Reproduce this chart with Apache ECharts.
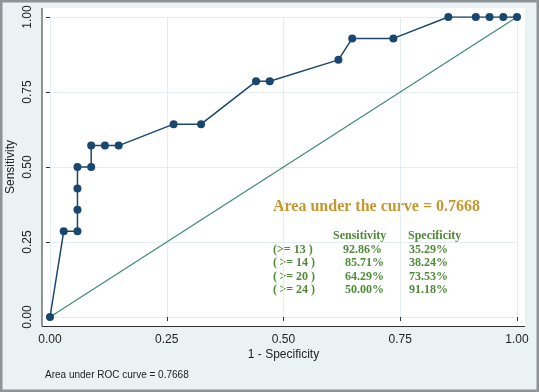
<!DOCTYPE html>
<html><head><meta charset="utf-8">
<script src="https://cdn.jsdelivr.net/npm/echarts@6/dist/echarts.min.js"></script>
<style>html,body{margin:0;padding:0;background:#eaf2f3}#c{width:539px;height:392px}</style>
</head><body><div id="c"></div>
<script>
// ROC points (1 - specificity, sensitivity)
const fpr = [0, 0.0294, 0.0588, 0.0588, 0.0588, 0.0588, 0.0882, 0.0882, 0.1176, 0.1471, 0.2647, 0.3235, 0.4412, 0.4706, 0.6176, 0.6471, 0.7353, 0.8529, 0.9118, 0.9412, 0.9706, 1];
const tpr = [0, 0.2857, 0.2857, 0.3571, 0.4286, 0.5, 0.5, 0.5714, 0.5714, 0.5714, 0.6429, 0.6429, 0.7857, 0.7857, 0.8571, 0.9286, 0.9286, 1, 1, 1, 1, 1];
const refX = [0, 1];
const refY = [0, 1];
const tickLabels = ['0.00', '0.25', '0.50', '0.75', '1.00'];
const cutoffs = ['(>= 13 )', '(\u2009>= 14 )', '(\u2009>= 20 )', '(\u2009>= 24 )'];
const sensValues = ['92.86%', '85.71%', '64.29%', '50.00%'];
const specValues = ['35.29%', '38.24%', '73.53%', '91.18%'];
const aucTitle = 'Area under the curve = 0.7668';
const footer = 'Area under ROC curve = 0.7668';

const chart = echarts.init(document.getElementById('c'), null, {renderer: 'canvas'});
const sans = "'Liberation Sans', Arial, sans-serif";
const serif = "'Liberation Serif', 'Times New Roman', serif";
const green = '#4f8a38';
const tbl = [];
tbl.push({type: 'text', left: 333, top: 230, style: {text: 'Sensitivity', font: 'bold 12px ' + serif, fill: green}});
tbl.push({type: 'text', left: 408, top: 230, style: {text: 'Specificity', font: 'bold 12px ' + serif, fill: green}});
const rowTops = [244, 257, 271, 284];
const sensLeft = [343, 345, 345, 345];
cutoffs.forEach((c, i) => {
  tbl.push({type: 'text', left: 273, top: rowTops[i], style: {text: c, font: 'bold 12px ' + serif, fill: green}});
  tbl.push({type: 'text', left: sensLeft[i], top: rowTops[i], style: {text: sensValues[i], font: 'bold 12px ' + serif, fill: green}});
  tbl.push({type: 'text', left: 409, top: rowTops[i], style: {text: specValues[i], font: 'bold 12px ' + serif, fill: green}});
});

chart.setOption({
  backgroundColor: '#eaf2f3',
  animation: false,
  grid: {left: 50, right: 22, top: 17, bottom: 75, containLabel: false, outerBoundsMode: 'none'},
  xAxis: {
    type: 'value', min: 0, max: 1, interval: 0.25, offset: 9,
    name: '1 - Specificity', nameLocation: 'middle', nameGap: 23, nameMoveOverlap: false,
    nameTextStyle: {fontFamily: sans, fontSize: 12, color: '#222'},
    axisLine: {show: false},
    axisTick: {show: true, length: 4, lineStyle: {color: '#333'}},
    axisLabel: {margin: 8, fontFamily: sans, fontSize: 12, color: '#222',
      formatter: v => tickLabels[Math.round(v / 0.25)]},
    splitLine: {show: true, lineStyle: {color: '#e3edf2', width: 1}}
  },
  yAxis: {
    type: 'value', min: 0, max: 1, interval: 0.25, offset: 8,
    name: 'Sensitivity', nameLocation: 'middle', nameGap: 25, nameRotate: 90, nameMoveOverlap: false,
    nameTextStyle: {fontFamily: sans, fontSize: 12, color: '#222'},
    axisLine: {show: false},
    axisTick: {show: true, length: 4, lineStyle: {color: '#333'}},
    axisLabel: {margin: 8, rotate: 90, fontFamily: sans, fontSize: 12, color: '#222',
      formatter: v => tickLabels[Math.round(v / 0.25)]},
    splitLine: {show: true, lineStyle: {color: '#e3edf2', width: 1}}
  },
  graphic: [
    {type: 'rect', z: -100, shape: {x: 42, y: 8, width: 483, height: 318}, style: {fill: '#ffffff'}},
    {type: 'line', z: 10, shape: {x1: 42, y1: 8, x2: 42, y2: 326.5}, style: {stroke: '#333', lineWidth: 1}},
    {type: 'line', z: 10, shape: {x1: 42, y1: 326.5, x2: 525, y2: 326.5}, style: {stroke: '#333', lineWidth: 1}},
    {type: 'rect', z: 100, shape: {x: 1, y: 1, width: 537, height: 390}, style: {fill: 'none', stroke: '#8e9497', lineWidth: 3}},
    {type: 'text', left: 273, top: 199, style: {text: aucTitle, font: 'bold 16px ' + serif, fill: '#c8962e'}},
    {type: 'text', left: 45, top: 370, style: {text: footer, font: '10px ' + sans, fill: '#222'}},
    ...tbl
  ],
  series: [
    {type: 'line', data: refX.map((x, i) => [x, refY[i]]), symbol: 'none',
      lineStyle: {color: '#3f8c6c', width: 1.2}, z: 2},
    {type: 'line', data: fpr.map((x, i) => [x, tpr[i]]), symbol: 'circle', symbolSize: 8,
      itemStyle: {color: '#1a476f'}, lineStyle: {color: '#1a476f', width: 1.5}, z: 3}
  ]
});
</script></body></html>
